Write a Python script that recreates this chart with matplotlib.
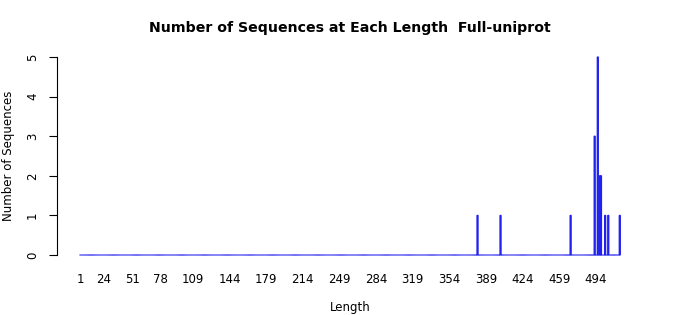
import numpy as np
import matplotlib
matplotlib.use("Agg")
import matplotlib.pyplot as plt

# sequence lengths that occur, and how many sequences have each length
lengths = [381, 403, 470, 493, 496, 498, 499, 503, 506, 517]
counts = [1, 1, 1, 3, 5, 2, 2, 1, 1, 1]

# labels R printed under the bars
tick_labels = [1, 24, 51, 78, 109, 144, 179, 214, 249, 284, 319, 354, 389, 424, 459, 494]

# every length from 1 to the max gets a bar (zero for the missing ones)
all_lengths = np.arange(1, max(lengths) + 1)
all_counts = np.zeros(len(all_lengths))
for l, c in zip(lengths, counts):
    all_counts[l - 1] = c

fig = plt.figure(figsize=(7, 3.15), dpi=100)
ax = fig.add_axes([57 / 700, 1 - 255 / 315, 586 / 700, 198 / 315])

bars = ax.bar(all_lengths, all_counts, width=1.0, color="blue",
              edgecolor="#2222ee", linewidth=0.9, clip_on=False)
for b in bars:
    b.set_snap(False)

ax.set_xlim(-21, 539.2)
ax.set_ylim(0, 5)

for s in ["top", "right", "bottom"]:
    ax.spines[s].set_visible(False)
ax.spines["left"].set_bounds(0, 5)
ax.spines["left"].set_linewidth(0.8)

ax.set_yticks([0, 1, 2, 3, 4, 5])
ax.tick_params(axis="y", length=6, width=0.8, pad=7, labelsize=8.5)
for t in ax.get_yticklabels():
    t.set_rotation(90)
    t.set_va("center")

ax.set_xticks(tick_labels)
ax.set_xticklabels([str(t) for t in tick_labels])
ax.tick_params(axis="x", length=0, pad=13, labelsize=8.5)

ax.set_xlabel("Length", fontsize=8.5, labelpad=11)
ax.set_ylabel("Number of Sequences", fontsize=8.5, labelpad=8)
ax.set_title("Number of Sequences at Each Length  Full-uniprot",
             fontsize=10.2, fontweight="bold", pad=18)

fig.savefig("out.png", dpi=100)
